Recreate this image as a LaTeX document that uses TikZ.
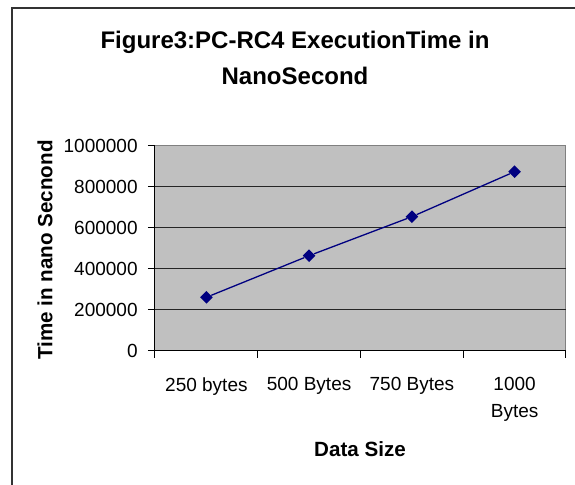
\documentclass[tikz,border=0pt]{standalone}
\usepackage{fontspec}
\setmainfont{Liberation Sans}
\usetikzlibrary{shapes.geometric}
\usetikzlibrary{positioning}
\definecolor{mnavy}{rgb}{0, 0, 0.5}
\definecolor{plotgray}{RGB}{192, 192, 192}
\definecolor{framegray}{RGB}{51, 51, 51}
\tikzset{dmd/.style = {diamond, fill = mnavy, inner sep = 0, minimum size = 6.5pt}}
\tikzset{ticklab/.style = {anchor = east, inner sep = 0, font = \fontsize{9.5}{11}\selectfont}}
\tikzset{catlab/.style = {anchor = north, inner sep = 0, align = center,
                          font = \fontsize{9.5}{13.5}\selectfont}}
\tikzset{axlab/.style = {inner sep = 0, font = \bfseries\fontsize{10.3}{12}\selectfont}}
\tikzset{ttl/.style = {anchor = base, inner sep = 0, font = \bfseries\fontsize{12}{18}\selectfont}}

\begin{document}
\begin{tikzpicture}[x = 0.5pt, y = -0.5pt]
    \useasboundingbox (0, 0) rectangle (575, 485);
    \fill [white] (0, 0) rectangle (575, 485);

    % chart frame
    \draw [framegray, line width = 0.75pt] (12, 485) -- (12, 8) -- (575, 8);

    % title
    \node [ttl] (title1) at (295, 49) {Figure3:PC-RC4 ExecutionTime in};
    \node [ttl] (title2) at (295, 85) {NanoSecond};

    % plot area and grid
    \filldraw [fill = plotgray, draw = gray, line width = 0.5pt] (155, 146) rectangle (566, 351);
    \draw [black!85, line width = 0.5pt] (155, 187) -- (566, 187);
    \draw [black!85, line width = 0.5pt] (155, 228) -- (566, 228);
    \draw [black!85, line width = 0.5pt] (155, 269) -- (566, 269);
    \draw [black!85, line width = 0.5pt] (155, 310) -- (566, 310);

    % axes
    \draw [line width = 0.5pt] (155, 146) -- (155, 351) -- (566, 351);
    \draw [line width = 0.5pt] (148, 146) -- (155, 146);
    \draw [line width = 0.5pt] (148, 187) -- (155, 187);
    \draw [line width = 0.5pt] (148, 228) -- (155, 228);
    \draw [line width = 0.5pt] (148, 269) -- (155, 269);
    \draw [line width = 0.5pt] (148, 310) -- (155, 310);
    \draw [line width = 0.5pt] (148, 351) -- (155, 351);
    \draw [line width = 0.5pt] (155, 351) -- (155, 358);
    \draw [line width = 0.5pt] (257.75, 351) -- (257.75, 358);
    \draw [line width = 0.5pt] (360.5, 351) -- (360.5, 358);
    \draw [line width = 0.5pt] (463.25, 351) -- (463.25, 358);
    \draw [line width = 0.5pt] (566, 351) -- (566, 358);

    \node [ticklab] (y0) at (138, 351) {0};
    \node [ticklab] (y2) at (138, 310) {200000};
    \node [ticklab] (y4) at (138, 269) {400000};
    \node [ticklab] (y6) at (138, 228) {600000};
    \node [ticklab] (y8) at (138, 187) {800000};
    \node [ticklab] (y10) at (138, 146) {1000000};

    \node [catlab] (c1) at (206.4, 377) {250 bytes};
    \node [catlab] (c2) at (309.1, 377) {500 Bytes};
    \node [catlab] (c3) at (411.9, 377) {750 Bytes};
    \node [catlab] (c4) at (514.6, 377) {1000\\Bytes};

    \node [axlab, rotate = 90] (ylab) at (45, 250) {Time in nano Secnond};
    \node [axlab, anchor = base] (xlab) at (360, 457) {Data Size};

    % data
    \node [dmd] (p1) at (206.4, 297.3) {};
    \node [dmd] (p2) at (309.1, 255.7) {};
    \node [dmd] (p3) at (411.9, 216.7) {};
    \node [dmd] (p4) at (514.6, 171.7) {};
    \draw [mnavy, line width = 0.65pt] (p1) -- (p2) -- (p3) -- (p4);
\end{tikzpicture}
\end{document}
